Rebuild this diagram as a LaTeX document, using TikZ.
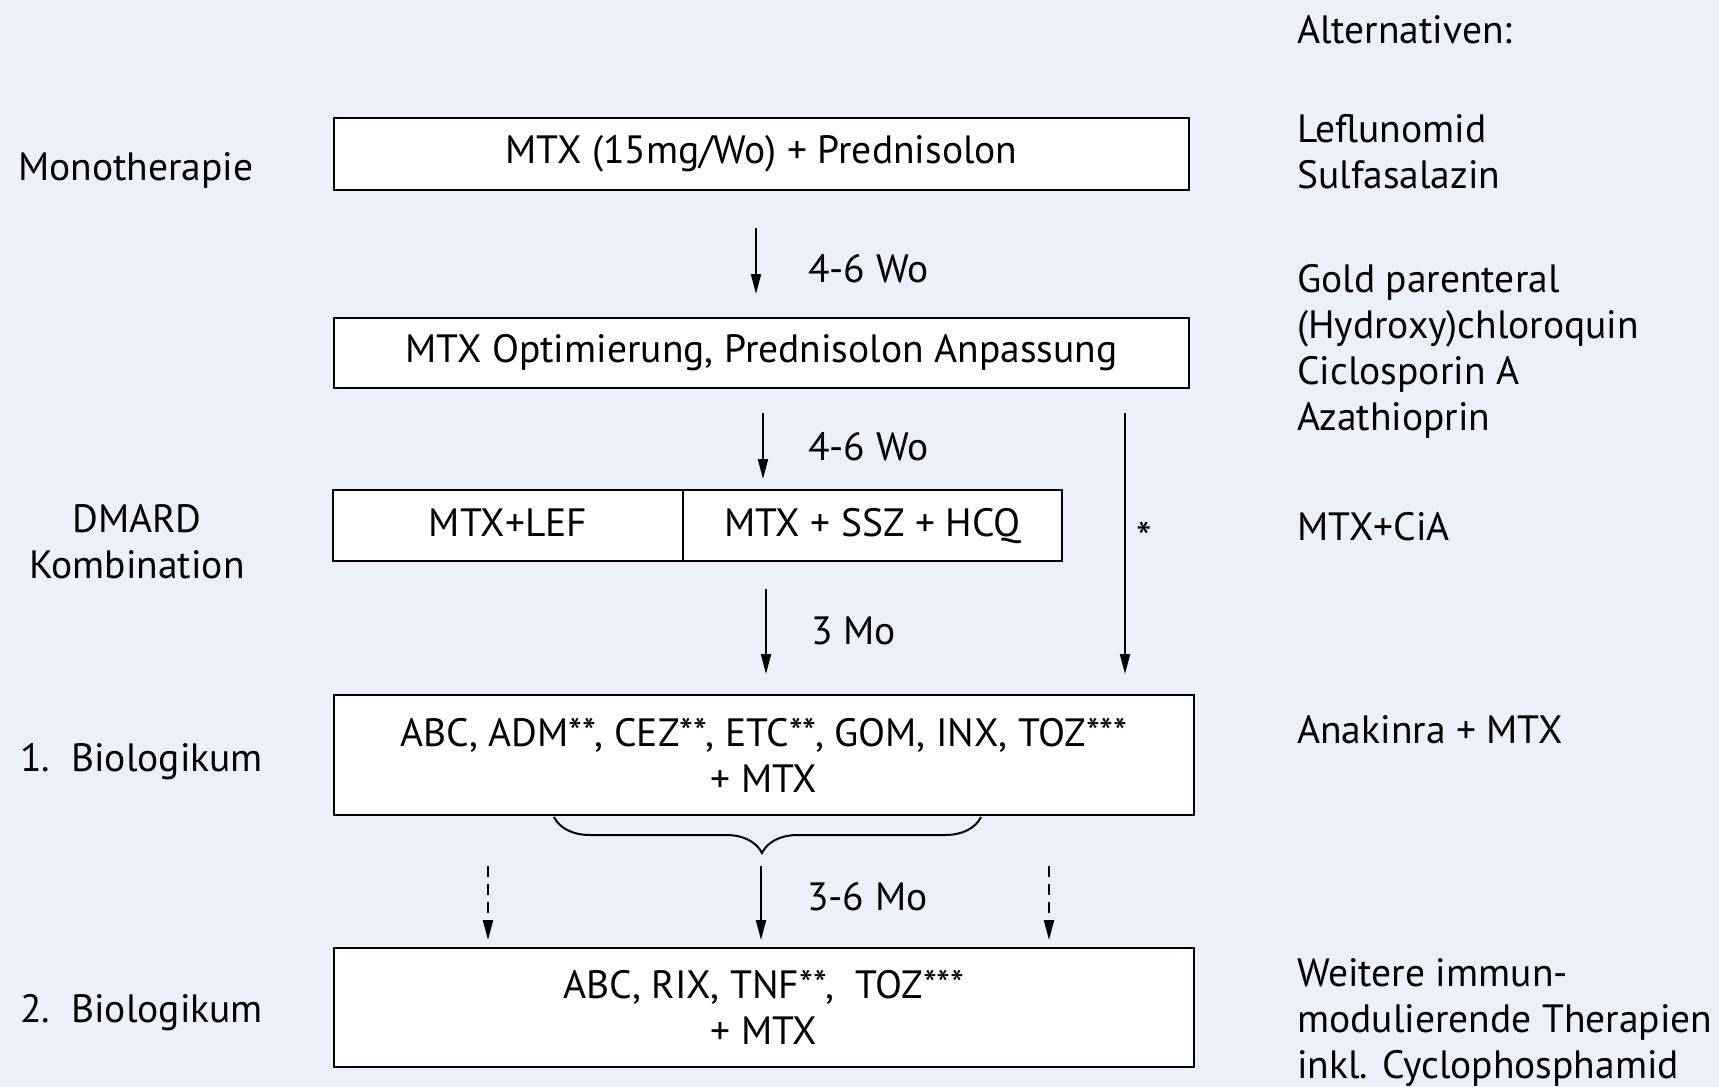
\documentclass[tikz,border=0pt]{standalone}
\usepackage{fontspec}
\setmainfont{PT Sans}
\usetikzlibrary{arrows.meta, decorations.pathreplacing}
\definecolor{bgblue}{RGB}{236,240,250}

\begin{document}
\begin{tikzpicture}[
    x=1pt, y=-1pt,
    every node/.style={font=\fontsize{39.5}{46}\selectfont, inner sep=0pt},
    >={Triangle[length=20pt, width=10pt]},
    therapybox/.style={draw, fill=white, line width=2.5pt, align=center},
    splitbox/.style={therapybox, text height=28pt, text depth=6pt},
    flow/.style={->, line width=2pt},
    optflow/.style={->, line width=2pt, dash pattern=on 11pt off 7pt},
    steplabel/.style={anchor=west},
    rowlabel/.style={anchor=west},
    altlabel/.style={anchor=west, align=left},
]

% === Background and page size ===
\fill[bgblue] (0,0) rectangle (1719,1087);
\useasboundingbox (0,0) rectangle (1719,1087);

% === Therapy boxes ===
\node[therapybox, minimum width=855pt, minimum height=72pt] (mono) at (761.5,154)
    {MTX (15mg/Wo) + Prednisolon};
\node[therapybox, minimum width=855pt, minimum height=70pt] (optim) at (761.5,353)
    {MTX Optimierung, Prednisolon Anpassung};
\node[splitbox, minimum width=350pt, minimum height=71pt] (mtxlef) at (508,525.5)
    {MTX+LEF};
\node[splitbox, minimum width=379pt, minimum height=71pt] (mtxssz) at (872.5,525.5)
    {MTX + SSZ + HCQ};
\node[therapybox, minimum width=860pt, minimum height=120pt] (bio1) at (764,755)
    {ABC, ADM**, CEZ**, ETC**, GOM, INX, TOZ***\\+ MTX};
\node[therapybox, minimum width=860pt, minimum height=119pt] (bio2) at (764,1007.5)
    {ABC, RIX, TNF**,\ \ TOZ***\\+ MTX};

% === Row labels (left) ===
\node[rowlabel] (lmono) at (18,170) {Monotherapie};
\node[align=center] (ldmard) at (137,542) {DMARD\\Kombination};
\node[rowlabel] (lbio1) at (20,762) {1.\ \ Biologikum};
\node[rowlabel] (lbio2) at (20,1013) {2.\ \ Biologikum};

% === Alternatives (right) ===
\node[altlabel] (althead) at (1297,30) {Alternativen:};
\node[altlabel] (altmono) at (1297,152) {Leflunomid\\Sulfasalazin};
\node[altlabel] (altoptim) at (1297,351)
    {Gold parenteral\\(Hydroxy)chloroquin\\Ciclosporin A\\Azathioprin};
\node[altlabel] (altdmard) at (1297,527) {MTX+CiA};
\node[altlabel] (altbio1) at (1297,730) {Anakinra + MTX};
\node[altlabel] (altbio2) at (1297,1023)
    {Weitere immun-\\modulierende Therapien\\inkl. Cyclophosphamid};

% === Step arrows ===
\coordinate (s1a) at (756,228);  \coordinate (s1b) at (756,294);
\coordinate (s2a) at (763,413);  \coordinate (s2b) at (763,479);
\coordinate (s3a) at (766,589);  \coordinate (s3b) at (766,674);
\coordinate (ska) at (1125,413); \coordinate (skb) at (1125,674);
\coordinate (s4a) at (761,866);  \coordinate (s4b) at (761,940);
\coordinate (dla) at (488,866);  \coordinate (dlb) at (488,940);
\coordinate (dra) at (1049,866); \coordinate (drb) at (1049,940);

\draw[flow] (s1a) -- (s1b);
\draw[flow] (s2a) -- (s2b);
\draw[flow] (s3a) -- (s3b);
\draw[flow] (ska) -- (skb);
\draw[flow] (s4a) -- (s4b);
\draw[optflow] (dla) -- (dlb);
\draw[optflow] (dra) -- (drb);

\node[steplabel] (t1) at (808,269) {4-6 Wo};
\node[steplabel] (t2) at (808,447) {4-6 Wo};
\node[steplabel] (t3) at (811,631) {3 Mo};
\node[steplabel] (t4) at (807,897) {3-6 Mo};
\node[font=\fontsize{44}{48}\selectfont] (tskip) at (1144,538) {*};

% === Brace under 1. Biologikum ===
\draw[decorate, decoration={brace, mirror, amplitude=36pt, aspect=0.487}, line width=2pt]
    (554,817) -- (981,817);

\end{tikzpicture}
\end{document}
